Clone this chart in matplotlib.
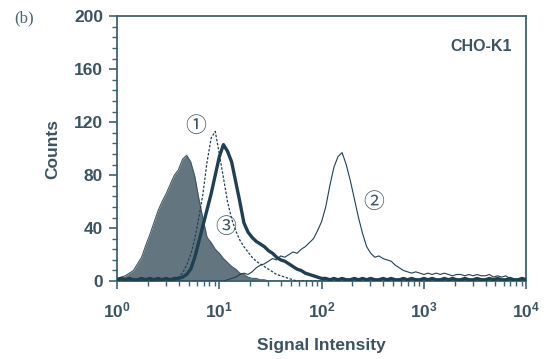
import numpy as np
import matplotlib
matplotlib.use("Agg")
import matplotlib.pyplot as plt
from matplotlib.ticker import MultipleLocator, LogLocator, NullFormatter

plt.rcParams['font.family'] = ['Liberation Sans', 'DejaVu Sans']
plt.rcParams['mathtext.fontset'] = 'custom'
plt.rcParams['mathtext.rm'] = 'Liberation Sans:bold'
plt.rcParams['mathtext.bf'] = 'Liberation Sans:bold'
plt.rcParams['mathtext.it'] = 'Liberation Sans:bold'

# channel positions, log10 of signal intensity (0.00 .. 4.00, step 0.04)
log_channels = [round(0.04 * i, 2) for i in range(101)]

# unstained control (filled)
control = [2, 3, 4, 6, 8, 13, 18, 27, 35, 44, 53, 60, 66, 73, 80, 84, 92, 95, 90, 79,
           62, 47, 33, 29, 24, 21, 17, 14, 11, 9, 6, 5, 3, 2, 2, 1, 1, 0, 0, 0,
           0, 0, 0, 0, 0, 0, 0, 0, 0, 0, 0, 0, 0, 0, 0, 0, 0, 0, 0, 0,
           0, 0, 0, 0, 0, 0, 0, 0, 0, 0, 0, 0, 0, 0, 0, 0, 0, 0, 0, 0,
           0, 0, 0, 0, 0, 0, 0, 0, 0, 0, 0, 0, 0, 0, 0, 0, 0, 0, 0, 0, 0]

# curve 1 (dashed)
curve1 = [0, 0, 0, 0, 0, 0, 0, 0, 0, 0, 0, 0, 0, 0, 0, 3, 6, 12, 20, 32,
          48, 66, 90, 108, 113, 96, 78, 60, 47, 38, 31, 26, 22, 18, 15, 13, 11, 9, 7, 5,
          4, 3, 2, 1, 0, 0, 0, 0, 0, 0, 0, 0, 0, 0, 0, 0, 0, 0, 0, 0,
          0, 0, 0, 0, 0, 0, 0, 0, 0, 0, 0, 0, 0, 0, 0, 0, 0, 0, 0, 0,
          0, 0, 0, 0, 0, 0, 0, 0, 0, 0, 0, 0, 0, 0, 0, 0, 0, 0, 0, 0, 0]

# curve 2 (thin solid)
curve2 = [0, 0, 0, 0, 0, 0, 0, 0, 0, 0, 0, 0, 0, 0, 0, 0, 0, 0, 0, 0,
          0, 0, 0, 0, 0, 0, 0, 1, 2, 3, 5, 6, 5, 7, 10, 12, 13, 15, 17, 16,
          19, 18, 20, 22, 21, 24, 26, 29, 32, 38, 45, 56, 72, 86, 94, 97, 88, 76, 62, 48,
          36, 26, 21, 18, 19, 17, 16, 15, 12, 10, 8, 7, 6, 7, 6, 5, 6, 5, 6, 5,
          6, 5, 4, 5, 5, 4, 5, 4, 5, 4, 4, 5, 3, 4, 3, 4, 2, 1, 0, 0, 0]

# curve 3 (thick solid)
curve3 = [1, 2, 1, 2, 1, 1, 2, 1, 2, 1, 2, 1, 2, 1, 2, 2, 3, 5, 9, 18,
          30, 42, 54, 66, 80, 94, 103, 98, 90, 75, 60, 44, 37, 33, 30, 28, 26, 23, 21, 18,
          16, 15, 13, 11, 9, 8, 6, 5, 4, 3, 2, 2, 1, 2, 1, 2, 1, 1, 2, 1,
          2, 1, 2, 1, 1, 2, 1, 2, 1, 1, 2, 1, 2, 1, 1, 2, 1, 2, 1, 1,
          2, 1, 2, 1, 1, 2, 1, 1, 2, 1, 1, 2, 1, 2, 1, 1, 2, 1, 1, 2, 1]

x_ticks = [1, 10, 100, 1000, 10000]
x_labels = ['$10^{0}$', '$10^{1}$', '$10^{2}$', '$10^{3}$', '$10^{4}$']
y_ticks = [0, 40, 80, 120, 160, 200]

line_col = '#1f4053'
fill_col = '#63767f'
axis_col = '#3d6275'
text_col = '#3a5463'

x = 10 ** np.array(log_channels)

fig = plt.figure(figsize=(5.47, 3.59), dpi=100)
ax = fig.add_axes([0.214, 0.217, 0.748, 0.738])

ax.fill_between(x, 0, control, color=fill_col, lw=0, zorder=1)
ax.plot(x, control, color='#3f5866', lw=0.8, zorder=2)
ax.plot(x, curve2, color=line_col, lw=0.8, zorder=3)
ax.plot(x, curve1, color=line_col, lw=0.9, ls=(0, (2.0, 1.3)), zorder=4)
ax.plot(x, curve3, color=line_col, lw=2.4, zorder=5)

ax.set_xscale('log')
ax.set_xlim(1, 10000)
ax.set_ylim(0, 200)
ax.set_xticks(x_ticks)
ax.set_xticklabels(x_labels)
ax.xaxis.set_minor_locator(LogLocator(base=10, subs=np.arange(2, 10)))
ax.xaxis.set_minor_formatter(NullFormatter())
ax.set_yticks(y_ticks)
ax.yaxis.set_minor_locator(MultipleLocator(8))

for s in ax.spines.values():
    s.set_color(axis_col)
    s.set_linewidth(1.3)

ax.tick_params(which='major', direction='out', length=6, width=1.2, color=axis_col,
               labelsize=12.5, labelcolor=text_col, pad=4)
ax.tick_params(which='minor', direction='out', length=3.5, width=1.0, color=axis_col)
ax.tick_params(axis='x', which='major', pad=8)
for lab in ax.get_yticklabels():
    lab.set_fontweight('bold')

ax.set_ylabel('Counts', fontsize=12.5, fontweight='bold', color=text_col, labelpad=10)
ax.set_xlabel('Signal Intensity', fontsize=12.5, fontweight='bold', color=text_col, labelpad=13)

fig.text(0.026, 0.948, '(b)', family='Liberation Serif', fontsize=12, color='#4d6470', va='center')
ax.text(0.89, 0.885, 'CHO-K1', transform=ax.transAxes, fontsize=11.5, fontweight='bold',
        color=text_col, ha='center', va='center')

circ_fonts = ['Noto Sans CJK SC', 'DejaVu Sans']
ax.text(10 ** 0.77, 117, '\u2460', family=circ_fonts, fontsize=15, color=text_col, ha='center', va='center')
ax.text(10 ** 2.51, 60, '\u2461', family=circ_fonts, fontsize=15, color=text_col, ha='center', va='center')
ax.text(10 ** 1.06, 41, '\u2462', family=circ_fonts, fontsize=15, color=text_col, ha='center', va='center')

fig.savefig('out.png', dpi=100)
